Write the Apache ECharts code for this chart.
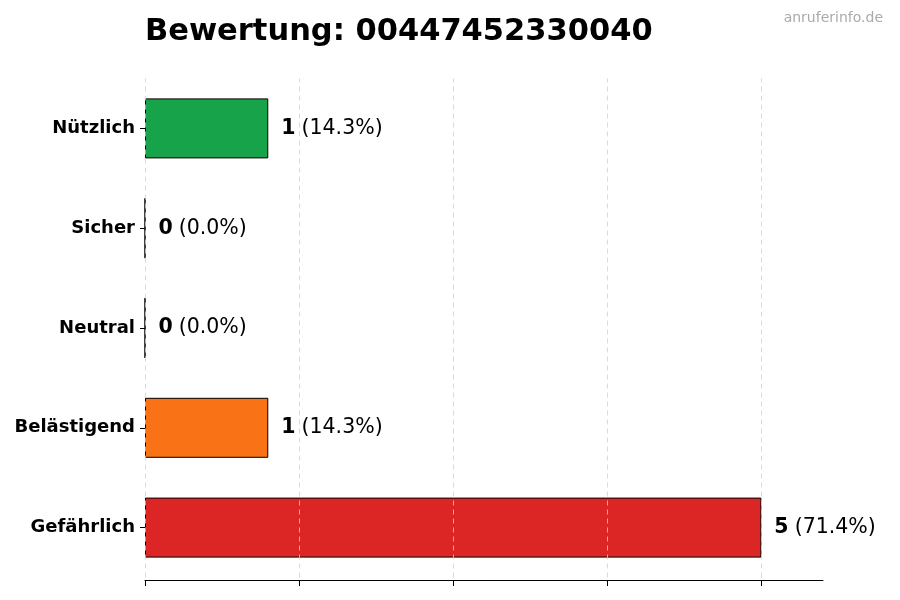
<!DOCTYPE html>
<html><head><meta charset="utf-8">
<script src="https://cdn.jsdelivr.net/npm/echarts@6/dist/echarts.min.js"></script>
<style>html,body{margin:0;padding:0;background:#fff}#c{width:900px;height:600px}</style>
</head><body><div id="c"></div>
<script>
const categories = ['Gefährlich', 'Belästigend', 'Neutral', 'Sicher', 'Nützlich'];
const values = [5, 1, 0, 0, 1];
const percents = ['71.4%', '14.3%', '0.0%', '0.0%', '14.3%'];
const colors = ['#dc2626', '#f97316', '#9ca3af', '#3b82f6', '#16a34a'];
const xTicks = [0, 1.25, 2.5, 3.75, 5];
const titleText = 'Bewertung: 00447452330040';
const watermark = 'anruferinfo.de';

const font = '"DejaVu Sans", sans-serif';
const chart = echarts.init(document.getElementById('c'));
chart.setOption({
  animation: false,
  textStyle: { fontFamily: font },
  title: [
    { text: titleText, left: 140, top: 12, textStyle: { fontFamily: font, fontSize: 30.5, fontWeight: 'bold', color: '#000' } },
    { text: watermark, right: 12, top: 6, textStyle: { fontFamily: font, fontSize: 14, fontWeight: 'normal', color: '#aaaaaa' } }
  ],
  grid: { left: 145, right: 77, top: 78.5, bottom: 22.5, containLabel: false },
  xAxis: {
    type: 'value', min: 0, max: 5.5, offset: 2.5,
    axisLine: { show: true, lineStyle: { color: '#000', width: 1 } },
    axisTick: { show: true, length: 6, customValues: xTicks, lineStyle: { color: '#000' } },
    axisLabel: { show: false },
    splitLine: { show: false }
  },
  yAxis: {
    type: 'category', data: categories,
    axisLine: { show: false },
    axisTick: { show: true, alignWithLabel: true, length: 5, lineStyle: { color: '#000' } },
    axisLabel: { fontFamily: font, fontSize: 18, fontWeight: 'bold', color: '#000', margin: 10, padding: [3, 0, 0, 0] }
  },
  series: [{
    type: 'bar',
    barWidth: 60,
    data: values.map((v, i) => ({ value: v, itemStyle: { color: colors[i] } })),
    itemStyle: { borderColor: '#000', borderWidth: 1 },
    label: {
      show: true, position: 'right', distance: 13,
      formatter: p => '{b|' + p.value + '}{s| }{n|(' + percents[p.dataIndex] + ')}',
      rich: {
        b: { fontFamily: font, fontSize: 20.5, fontWeight: 'bold', color: '#000' },
        s: { fontFamily: font, fontSize: 20.5, color: '#000', width: 6 },
        n: { fontFamily: font, fontSize: 20.5, color: '#000' }
      }
    },
    markLine: {
      silent: true, symbol: 'none', animation: false,
      label: { show: false },
      lineStyle: { type: [5, 4], color: '#d0d0d0', width: 0.8 },
      emphasis: { disabled: true },
      data: xTicks.map(t => ({ xAxis: t }))
    }
  }]
});
</script></body></html>
